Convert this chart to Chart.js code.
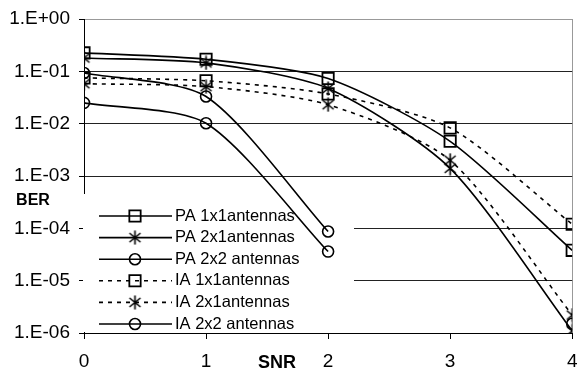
<!DOCTYPE html>
<html><head><meta charset="utf-8">
<script src="https://cdn.jsdelivr.net/npm/chart.js@4"></script>
<style>html,body{margin:0;padding:0;background:#fff}#wrap{width:582px;height:372px}</style>
</head><body><div id="wrap"><canvas id="c" width="582" height="372"></canvas></div>
<script>
// ---- data ----
const snr = [0, 1, 2, 3, 4];
const yTickValues = [1e-6, 1e-5, 1e-4, 1e-3, 1e-2, 1e-1, 1];
const seriesNames = ['PA 1x1antennas', 'PA 2x1antennas', 'PA 2x2 antennas', 'IA 1x1antennas', 'IA 2x1antennas', 'IA 2x2 antennas'];
const pa1x1 = [0.225, 0.17, 0.073, 0.0046, 3.8e-5];
const pa2x1 = [0.18, 0.145, 0.047, 0.0014, 1.1e-6];
const pa2x2 = [0.025, 0.0102, 3.6e-5, null, null];
const ia1x1 = [0.075, 0.066, 0.037, 0.0083, 1.2e-4];
const ia2x1 = [0.058, 0.051, 0.023, 0.002, 2.2e-6];
const ia2x2 = [0.093, 0.033, 8.7e-5, null, 1.5e-6];

const FONT = '"Liberation Sans", Arial, sans-serif';

// asterisk marker (X with vertical bar)
function makeStar() {
  const c = document.createElement('canvas');
  c.width = 15; c.height = 15;
  const g = c.getContext('2d');
  g.strokeStyle = '#000'; g.lineWidth = 1.6;
  g.beginPath();
  g.moveTo(2, 3); g.lineTo(13, 12);
  g.moveTo(13, 3); g.lineTo(2, 12);
  g.moveTo(7.5, 0.5); g.lineTo(7.5, 14.5);
  g.stroke();
  return c;
}
const star = makeStar();

function pts(arr) { return snr.map((x, i) => ({ x: x, y: arr[i] })); }

const styles = [
  { pointStyle: 'rect', pointRadius: 8, dash: [] , pbw: 1.8},
  { pointStyle: star, pointRadius: 7, dash: [], pbw: 1.6 },
  { pointStyle: 'circle', pointRadius: 5.5, dash: [], pbw: 1.6 },
  { pointStyle: 'rect', pointRadius: 8, dash: [4, 5], pbw: 1.8 },
  { pointStyle: star, pointRadius: 7, dash: [4, 5], pbw: 1.6 },
  { pointStyle: 'circle', pointRadius: 5.5, dash: [], pbw: 1.6 }
];
const values = [pa1x1, pa2x1, pa2x2, ia1x1, ia2x1, ia2x2];

const datasets = values.map((v, i) => ({
  label: seriesNames[i],
  data: pts(v),
  borderColor: '#000',
  backgroundColor: 'rgba(0,0,0,0)',
  borderWidth: 1.6,
  borderDash: styles[i].dash,
  pointStyle: styles[i].pointStyle,
  pointRadius: styles[i].pointRadius,
  pointHoverRadius: styles[i].pointRadius,
  pointBorderWidth: styles[i].pbw,
  pointBorderColor: '#000',
  pointBackgroundColor: 'rgba(0,0,0,0)',
  tension: 0.25,
  spanGaps: false
}));

function fmtExp(v) {
  const e = Math.round(Math.log10(v));
  return '1.E' + (e < 0 ? '-' : '+') + String(Math.abs(e)).padStart(2, '0');
}

const overlay = {
  id: 'overlay',
  beforeDatasetsDraw(chart) {
    const ctx = chart.ctx;
    ctx.save();
    ctx.fillStyle = '#fff';
    ctx.fillRect(83, 194, 271, 138);
    chart.data.datasets.forEach((ds, i) => {
      const y = 216 + i * 21.6;
      ctx.strokeStyle = '#000';
      ctx.lineWidth = ds.borderWidth;
      ctx.setLineDash(ds.borderDash || []);
      ctx.beginPath(); ctx.moveTo(99, y); ctx.lineTo(172, y); ctx.stroke();
      ctx.setLineDash([]);
      ctx.fillStyle = 'rgba(0,0,0,0)';
      ctx.lineWidth = ds.pointBorderWidth;
      Chart.helpers.drawPoint(ctx, { pointStyle: ds.pointStyle, radius: ds.pointRadius, borderWidth: ds.pointBorderWidth, rotation: 0 }, 135, y);
      ctx.fillStyle = '#000';
      ctx.font = '16.5px ' + FONT;
      ctx.textBaseline = 'middle';
      ctx.textAlign = 'left';
      ctx.fillText(ds.label, 175, y);
    });
    ctx.restore();
  },
  afterDraw(chart) {
    const ctx = chart.ctx;
    ctx.save();
    ctx.fillStyle = '#000';
    ctx.textAlign = 'center';
    ctx.textBaseline = 'middle';
    ctx.font = 'bold 16px ' + FONT;
    ctx.fillText('BER', 33, 201);
    ctx.font = 'bold 18px ' + FONT;
    ctx.fillText('SNR', 277, 363);
    ctx.restore();
  }
};

new Chart(document.getElementById('c'), {
  type: 'line',
  data: { datasets: datasets },
  plugins: [overlay],
  options: {
    responsive: false,
    animation: false,
    events: [],
    layout: { padding: { top: 19, right: 5, left: 0, bottom: 0 } },
    plugins: { legend: { display: false }, tooltip: { enabled: false } },
    scales: {
      x: {
        type: 'linear', min: 0, max: 4,
        afterBuildTicks: s => { s.ticks = snr.map(v => ({ value: v })); },
        afterFit: s => { s.height = 39; s.paddingRight = 0; s.paddingLeft = 0; },
        ticks: { color: '#000', font: { family: FONT, size: 19 }, padding: 11, maxRotation: 0, autoSkip: false, callback: v => String(v) },
        grid: { color: c => (c.tick && c.tick.value === 4) ? '#999' : 'rgba(0,0,0,0)', tickColor: '#000', tickLength: 6, lineWidth: 1 },
        border: { color: '#000', width: 1 }
      },
      y: {
        type: 'logarithmic', min: 1e-6, max: 1,
        afterBuildTicks: s => { s.ticks = yTickValues.map(v => ({ value: v })); },
        afterFit: s => { s.width = 84; s.paddingTop = 0; s.paddingBottom = 0; },
        ticks: { color: '#000', font: { family: FONT, size: 19 }, padding: 9, autoSkip: false, callback: v => fmtExp(v) },
        grid: { color: c => (c.tick && c.tick.value === 1) ? '#999' : '#222', tickColor: '#000', tickLength: 5, lineWidth: 1 },
        border: { color: '#000', width: 1 }
      }
    }
  }
});
</script>
</body></html>
